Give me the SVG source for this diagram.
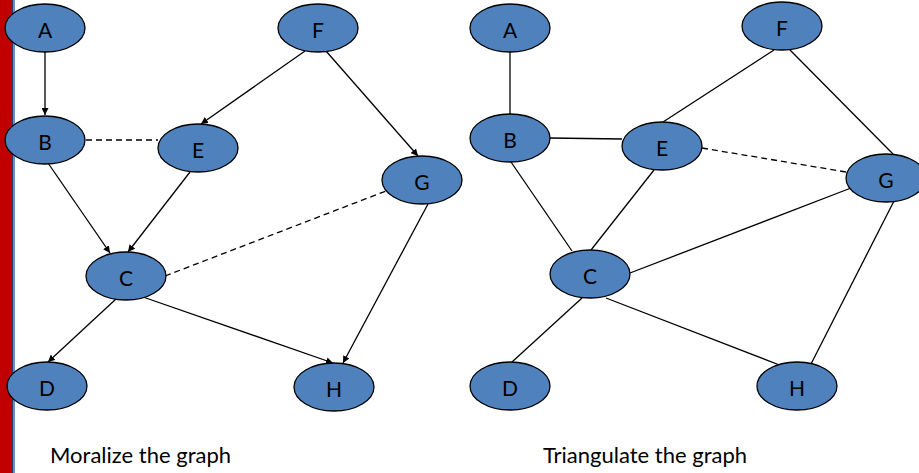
<svg xmlns="http://www.w3.org/2000/svg" width="919" height="473" viewBox="0 0 919 473">
  <style>
    .node ellipse { fill: #4f81bd; stroke: #000; stroke-width: 1.3; }
    .node text { font-family: Lato, "Open Sans", "DejaVu Sans", sans-serif; font-size: 21px; fill: #000; text-anchor: middle; dominant-baseline: central; }
    .edge { stroke: #000; stroke-width: 1.3; fill: none; }
    .dash { stroke-dasharray: 6 4; }
    .arrow { marker-end: url(#head); }
    .caption { font-family: Lato, "Open Sans", "DejaVu Sans", sans-serif; font-size: 22px; fill: #000; }
  </style>
  <defs>
    <marker id="head" viewBox="0 0 10 10" refX="10" refY="5" markerWidth="7" markerHeight="7" markerUnits="userSpaceOnUse" orient="auto">
      <path d="M0,0 L10,5 L0,10 z" fill="#000"/>
    </marker>
  </defs>

  <rect width="919" height="473" fill="#fff"/>
  <!-- side bar -->
  <rect x="0" y="0" width="12" height="473" fill="#c00000"/>
  <rect x="12" y="0" width="1" height="473" fill="#2c3e66"/>
  <rect x="13" y="0" width="2" height="473" fill="#6a8fc8"/>

  <g id="connectors">
    <!-- moralized (left) -->
    <line class="edge arrow" x1="45" y1="52" x2="45" y2="115"/>
    <line class="edge dash" x1="86" y1="140" x2="158" y2="140"/>
    <line class="edge arrow" x1="305" y1="51" x2="201" y2="124"/>
    <line class="edge arrow" x1="326" y1="51" x2="418" y2="156"/>
    <line class="edge arrow" x1="48" y1="163" x2="110" y2="253"/>
    <line class="edge arrow" x1="190" y1="172" x2="128" y2="252"/>
    <line class="edge dash" x1="165" y1="276" x2="386" y2="191"/>
    <line class="edge arrow" x1="116" y1="299" x2="48" y2="362"/>
    <line class="edge arrow" x1="143" y1="297" x2="333" y2="363"/>
    <line class="edge arrow" x1="428" y1="204" x2="343" y2="363"/>
    <!-- triangulated (right) -->
    <line class="edge" x1="510" y1="52" x2="510" y2="114"/>
    <line class="edge" x1="550" y1="138" x2="622" y2="139"/>
    <line class="edge" x1="774" y1="50" x2="663" y2="122"/>
    <line class="edge" x1="790" y1="50" x2="893" y2="154"/>
    <line class="edge dash" x1="702" y1="148" x2="846" y2="172"/>
    <line class="edge" x1="511" y1="162" x2="572" y2="251"/>
    <line class="edge" x1="654" y1="170" x2="591" y2="250"/>
    <line class="edge" x1="630" y1="273" x2="851" y2="188"/>
    <line class="edge" x1="582" y1="298" x2="512" y2="362"/>
    <line class="edge" x1="606" y1="298" x2="782" y2="366"/>
    <line class="edge" x1="894" y1="201" x2="810" y2="366"/>
  </g>

  <!-- left graph nodes -->
  <g id="L-A" class="node"><ellipse cx="45" cy="28" rx="40" ry="24"/><text x="45" y="29">A</text></g>
  <g id="L-B" class="node"><ellipse cx="45" cy="140" rx="40" ry="24"/><text x="45" y="141">B</text></g>
  <g id="L-E" class="node"><ellipse cx="198" cy="148" rx="40" ry="24"/><text x="198" y="149">E</text></g>
  <g id="L-F" class="node"><ellipse cx="318" cy="28" rx="40" ry="24"/><text x="318" y="29">F</text></g>
  <g id="L-G" class="node"><ellipse cx="422" cy="180" rx="40" ry="24"/><text x="422" y="181">G</text></g>
  <g id="L-C" class="node"><ellipse cx="126" cy="276" rx="40" ry="24"/><text x="126" y="277">C</text></g>
  <g id="L-D" class="node"><ellipse cx="47" cy="386" rx="40" ry="24"/><text x="47" y="387">D</text></g>
  <g id="L-H" class="node"><ellipse cx="334" cy="387" rx="40" ry="24"/><text x="334" y="388">H</text></g>

  <!-- right graph nodes -->
  <g id="R-A" class="node"><ellipse cx="510" cy="28" rx="40" ry="24"/><text x="510" y="29">A</text></g>
  <g id="R-B" class="node"><ellipse cx="510" cy="138" rx="40" ry="24"/><text x="510" y="139">B</text></g>
  <g id="R-E" class="node"><ellipse cx="662" cy="146" rx="40" ry="24"/><text x="662" y="147">E</text></g>
  <g id="R-F" class="node"><ellipse cx="782" cy="26" rx="40" ry="24"/><text x="782" y="27">F</text></g>
  <g id="R-G" class="node"><ellipse cx="886" cy="178" rx="40" ry="24"/><text x="886" y="179">G</text></g>
  <g id="R-C" class="node"><ellipse cx="590" cy="274" rx="40" ry="24"/><text x="590" y="275">C</text></g>
  <g id="R-D" class="node"><ellipse cx="510" cy="386" rx="40" ry="24"/><text x="510" y="387">D</text></g>
  <g id="R-H" class="node"><ellipse cx="797" cy="386" rx="40" ry="24"/><text x="797" y="387">H</text></g>

  <text class="caption" x="50" y="463">Moralize the graph</text>
  <text class="caption" x="543" y="463">Triangulate the graph</text>
</svg>
